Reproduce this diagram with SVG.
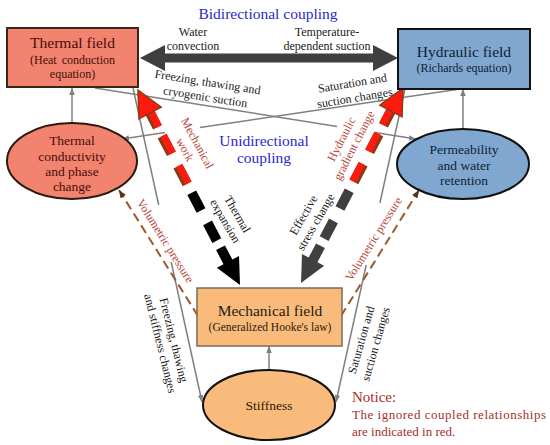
<svg xmlns="http://www.w3.org/2000/svg" width="550" height="445" viewBox="0 0 550 445">
<style>
text{font-family:"Liberation Serif","Times New Roman",serif}
.blue{fill:#2a2ad0;font-size:15.5px;text-anchor:middle}
.lbl{fill:#1a1a1a;font-size:12px;text-anchor:middle}
.red{fill:#b8463c;font-size:12px;text-anchor:middle}
.gl{stroke:#808080;stroke-width:1.5;fill:none}
.vp{stroke:#9a5a2a;stroke-width:2;fill:none;stroke-dasharray:9 5}
.brn{stroke:#8b3a12;stroke-width:10;fill:none}
.rd{stroke:#ff1a10;stroke-width:7;fill:none}
.tT{fill:#4a0c0c;text-anchor:middle}
.tH{fill:#0f1f33;text-anchor:middle}
.tM{fill:#2a1a0a;text-anchor:middle}
</style>
<defs>
<marker id="ga" viewBox="0 0 10 10" refX="10" refY="5" markerWidth="7" markerHeight="7" markerUnits="userSpaceOnUse" orient="auto"><path d="M0,1 L10,5 L0,9 z" fill="#808080"/></marker>
<marker id="ba" viewBox="0 0 10 10" refX="10" refY="5" markerWidth="8" markerHeight="8" markerUnits="userSpaceOnUse" orient="auto"><path d="M0,1 L10,5 L0,9 z" fill="#5a3418"/></marker>
</defs>

<rect width="550" height="445" fill="#fff"/>

<g id="connectors">
  <!-- bidirectional thick arrow -->
  <polygon points="140,58 165,45 165,53.5 373,53.5 373,45 398,58 373,71 373,62.5 165,62.5 165,71" fill="#3f3f3f"/>

  <!-- thin gray connectors -->
  <path class="gl" d="M95,88 L337,126.4"/>
  <path class="gl" d="M375,132.5 L416,139" marker-end="url(#ga)"/>
  <path class="gl" d="M460,89 L200,127.5"/>
  <path class="gl" d="M165,132.6 L122,139" marker-end="url(#ga)"/>
  <path class="gl" d="M72,123 L72,88" marker-end="url(#ga)"/>
  <path class="gl" d="M463,129 L463,89" marker-end="url(#ga)"/>
  <path class="gl" d="M269,370 L269,346" marker-end="url(#ga)"/>
  <path class="gl" d="M133,88 L158.7,205"/>
  <path class="gl" d="M171.2,262 L202,402" marker-end="url(#ga)"/>
  <path class="gl" d="M405,89 L379.9,203"/>
  <path class="gl" d="M366.2,265 L336,402" marker-end="url(#ga)"/>

  <!-- volumetric pressure dashed -->
  <path class="vp" d="M198,316 L119,190" marker-end="url(#ba)"/>
  <path class="vp" d="M341,316 L419,190" marker-end="url(#ba)"/>

  <!-- left: mechanical work (red) / thermal expansion (black) -->
  <path class="brn" d="M149.13,111.26 L157.47,127.21 M162.11,136.07 L171.38,153.79 M177.87,166.2 L187.14,183.92"/>
  <path class="rd" transform="translate(1.33,-0.7)" d="M149.13,111.26 L157.47,127.21 M162.11,136.07 L171.38,153.79 M177.87,166.2 L187.14,183.92"/>
  <polygon points="138,90 161.13,107.25 138.98,118.84" fill="#ff1a10" stroke="#8b3a12" stroke-width="1.5"/>
  <path stroke="#000" stroke-width="10" fill="none" d="M191.78,192.78 L201.05,210.5 M207.54,222.9 L216.81,240.62 M220.52,247.71 L228.87,263.66"/>
  <polygon points="239.02,256.09 216.87,267.68 239.99,284.92" fill="#000"/>

  <!-- right: hydraulic gradient change (red) / effective stress change (gray) -->
  <path class="brn" d="M391.87,109.26 L383.53,125.21 M378.89,134.07 L369.62,151.79 M363.13,164.2 L353.86,181.92"/>
  <path class="rd" transform="translate(-1.33,-0.7)" d="M391.87,109.26 L383.53,125.21 M378.89,134.07 L369.62,151.79 M363.13,164.2 L353.86,181.92"/>
  <polygon points="403,88 379.88,105.25 402.03,116.84" fill="#ff1a10" stroke="#8b3a12" stroke-width="1.5"/>
  <path stroke="#404040" stroke-width="10" fill="none" d="M349.22,190.78 L339.95,208.5 M333.46,220.9 L324.19,238.62 M320.48,245.71 L312.13,261.66"/>
  <polygon points="301.99,254.09 324.14,265.68 301.01,282.92" fill="#404040"/>
</g>

<g id="labels">
  <text class="blue" x="268" y="19">Bidirectional coupling</text>
  <text class="blue" x="264" y="146">Unidirectional</text>
  <text class="blue" x="264" y="163">coupling</text>

  <text class="lbl" x="193" y="36">Water</text>
  <text class="lbl" x="193" y="50">convection</text>
  <text class="lbl" x="327" y="36">Temperature-</text>
  <text class="lbl" x="327" y="50">dependent suction</text>

  <text class="lbl" transform="translate(207,86) rotate(9)"><tspan x="0" y="0">Freezing, thawing and</tspan><tspan x="0" y="15">cryogenic suction</tspan></text>
  <text class="lbl" transform="translate(353,87) rotate(-9.5)"><tspan x="0" y="0">Saturation and</tspan><tspan x="0" y="15">suction changes</tspan></text>

  <text class="red" transform="translate(194,145) rotate(62)"><tspan x="0" y="0">Mechanical</tspan><tspan x="0" y="14">work</tspan></text>
  <text class="lbl" transform="translate(234,216) rotate(60)"><tspan x="0" y="0">Thermal</tspan><tspan x="0" y="14">expansion</tspan></text>
  <text class="red" transform="translate(345,141) rotate(-63)"><tspan x="0" y="0">Hydraulic</tspan><tspan x="0" y="14">gradient change</tspan></text>
  <text class="lbl" transform="translate(307,217) rotate(-60)"><tspan x="0" y="0">Effective</tspan><tspan x="0" y="14">stress change</tspan></text>

  <text class="red" transform="translate(162,243) rotate(58)">Volumetric pressure</text>
  <text class="red" transform="translate(377,241) rotate(-58)">Volumetric pressure</text>

  <text class="lbl" transform="translate(170,341) rotate(76)"><tspan x="0" y="0">Freezing, thawing</tspan><tspan x="0" y="14">and stiffness changes</tspan></text>
  <text class="lbl" transform="translate(365,341) rotate(-74)"><tspan x="0" y="0">Saturation and</tspan><tspan x="0" y="15">suction changes</tspan></text>
</g>

<g id="thermal-field">
  <rect x="7" y="28" width="131" height="59" fill="#f2836f" stroke="#3a2718" stroke-width="2"/>
  <text class="tT" x="72.5" y="48" font-size="15.5">Thermal field</text>
  <text class="tT" x="72.5" y="64" font-size="12" word-spacing="2">(Heat conduction</text>
  <text class="tT" x="72.5" y="78" font-size="12">equation)</text>
</g>

<g id="hydraulic-field">
  <rect x="398" y="29" width="132" height="60" fill="#7fa7cf" stroke="#111" stroke-width="2"/>
  <text class="tH" x="464" y="57" font-size="15.5">Hydraulic field</text>
  <text class="tH" x="464" y="72" font-size="12">(Richards equation)</text>
</g>

<g id="mechanical-field">
  <rect x="197" y="288" width="145" height="58" fill="#f9bb7c" stroke="#7d6b55" stroke-width="1.5"/>
  <text class="tM" x="270" y="316" font-size="15.5">Mechanical field</text>
  <text class="tM" x="270" y="331" font-size="11.5">(Generalized Hooke's law)</text>
</g>

<g id="thermal-conductivity">
  <ellipse cx="72" cy="161" rx="65" ry="38" fill="#f2836f" stroke="#2a1a10" stroke-width="2"/>
  <text class="tT" x="72" y="145" font-size="13.5">Thermal</text>
  <text class="tT" x="72" y="161" font-size="13.5">conductivity</text>
  <text class="tT" x="72" y="176" font-size="13.5">and phase</text>
  <text class="tT" x="72" y="191" font-size="13.5">change</text>
</g>

<g id="permeability">
  <ellipse cx="463" cy="164" rx="66" ry="35" fill="#7fa7cf" stroke="#111" stroke-width="2"/>
  <text class="tH" x="464" y="154" font-size="13.5">Permeability</text>
  <text class="tH" x="464" y="170" font-size="13.5">and water</text>
  <text class="tH" x="464" y="185" font-size="13.5">retention</text>
</g>

<g id="stiffness">
  <ellipse cx="269" cy="405" rx="66" ry="35" fill="#f9bb7c" stroke="#111" stroke-width="2"/>
  <text class="tM" x="269" y="410" font-size="13.5">Stiffness</text>
</g>

<g id="notice">
  <text x="352" y="402" font-size="15" fill="#a5302a">Notice:</text>
  <text x="352" y="419" font-size="13" fill="#a5302a" textLength="194" lengthAdjust="spacing">The ignored coupled relationships</text>
  <text x="352" y="436" font-size="13" fill="#a5302a">are indicated in red.</text>
</g>
</svg>
